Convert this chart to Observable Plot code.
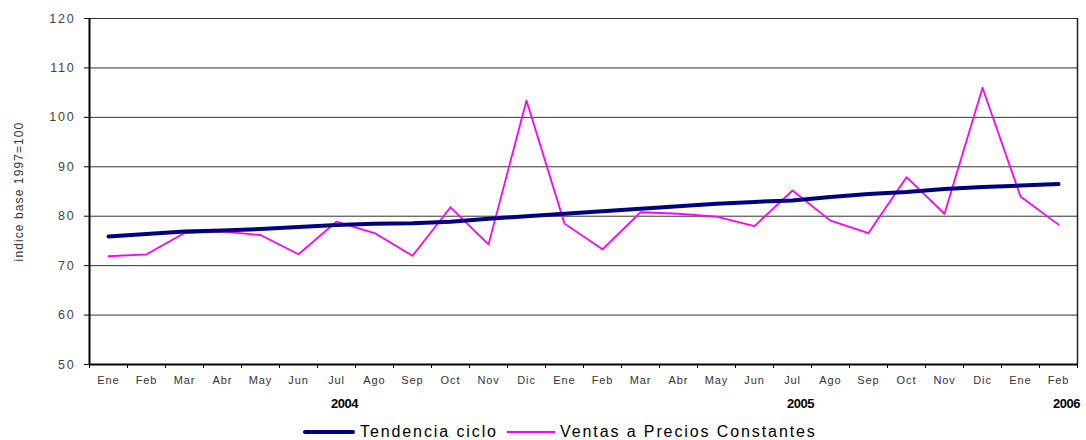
<!DOCTYPE html>
<html>
<head>
<meta charset="utf-8">
<script src="https://cdn.jsdelivr.net/npm/d3@7"></script>
<script src="https://cdn.jsdelivr.net/npm/@observablehq/plot@0.6"></script>
<style>
  html, body { margin: 0; padding: 0; background: #fff; overflow: hidden; }
  #chart svg { display: block; }
  .legend { position: relative; height: 24px; font-family: "Liberation Sans", Arial, sans-serif; font-size: 16px; letter-spacing: 1.9px; color: #000; }
  .legend .item { position: absolute; top: 0; height: 24px; display: flex; align-items: center; white-space: nowrap; }
  .legend .sw { display: inline-block; margin-right: 5px; }
</style>
</head>
<body>
<div id="chart"></div>
<div class="legend" id="legend"></div>
<script>
const meses = ["Ene","Feb","Mar","Abr","May","Jun","Jul","Ago","Sep","Oct","Nov","Dic",
               "Ene","Feb","Mar","Abr","May","Jun","Jul","Ago","Sep","Oct","Nov","Dic",
               "Ene","Feb"];
const tendencia = [75.9,76.4,76.9,77.1,77.4,77.8,78.2,78.5,78.6,78.9,79.5,80.0,
                   80.5,81.0,81.5,82.0,82.5,82.9,83.2,83.9,84.5,84.9,85.5,85.9,
                   86.2,86.5];
const ventas = [71.9,72.3,76.6,76.9,76.2,72.3,78.9,76.6,72.0,81.8,74.3,103.4,
                78.5,73.3,80.8,80.5,79.9,78.0,85.2,79.1,76.6,87.9,80.5,106.0,
                84.0,78.3];
const anos = ["2004","2005","2006"];
const anosMes = [6, 18, 25];
const yTicks = [50,60,70,80,90,100,110,120];
const yGrid = [60,70,80,90,100,110,120];
const yLabel = "indice base 1997=100";
const serieNombres = ["Tendencia ciclo","Ventas a Precios Constantes"];
const serieColores = ["#000080","#ff00ff"];

const n = meses.length;
const plot = Plot.plot({
  width: 1086,
  height: 420,
  marginLeft: 89,
  marginRight: 9,
  marginTop: 18,
  marginBottom: 56,
  style: { fontFamily: "Liberation Sans, Arial, sans-serif", background: "#fff" },
  x: { type: "linear", domain: [0, n], axis: null },
  y: { domain: [50, 120], axis: null },
  marks: [
    Plot.ruleY(yGrid, { stroke: "#333", strokeWidth: 1 }),
    Plot.ruleX([n], { stroke: "#222", strokeWidth: 1.5 }),
    Plot.axisY({ ticks: yTicks, tickSize: 5, tickPadding: 9, fontSize: 12.5, fill: "#444", stroke: "#000" }),
    Plot.axisX({ ticks: d3.range(n + 1), tickSize: 4, tickFormat: () => "", stroke: "#000" }),
    Plot.ruleX([0], { stroke: "#000", strokeWidth: 2 }),
    Plot.ruleY([50], { stroke: "#000", strokeWidth: 2 }),
    Plot.line(ventas, { x: (d, i) => i + 0.5, y: d => d, stroke: serieColores[1], strokeWidth: 1.8 }),
    Plot.line(tendencia, { x: (d, i) => i + 0.5, y: d => d, stroke: serieColores[0], strokeWidth: 4, strokeLinecap: "round" }),
    Plot.text(meses, { x: (d, i) => i + 0.5, text: d => d, frameAnchor: "bottom", dy: 19, fontSize: 11, fill: "#333" }),
    Plot.text(anos, { x: (d, i) => anosMes[i] + 0.5, text: d => d, frameAnchor: "bottom", dy: 43, dx: 8, fontSize: 13, fontWeight: "bold", fill: "#000" }),
    Plot.text([yLabel], { frameAnchor: "left", textAnchor: "middle", rotate: -90, dx: -67, lineAnchor: "bottom", fontSize: 12, fill: "#333" })
  ]
});
document.getElementById("chart").appendChild(plot);

// letter spacing tweaks
d3.select(plot).selectAll('g[aria-label="y-axis tick label"] text').style("letter-spacing", "1.8px");
const textGroups = d3.select(plot).selectAll('g[aria-label="text"]').nodes();
if (textGroups[0]) d3.select(textGroups[0]).selectAll("text").style("letter-spacing", "0.9px");
if (textGroups[1]) d3.select(textGroups[1]).selectAll("text").style("letter-spacing", "-0.5px");
if (textGroups[2]) d3.select(textGroups[2]).selectAll("text").style("letter-spacing", "1.1px");

// legend
const legend = document.getElementById("legend");
const items = [
  { left: 303, w: 52, h: 4 },
  { left: 507, w: 48, h: 2 }
];
serieNombres.forEach((name, i) => {
  const it = document.createElement("div");
  it.className = "item";
  it.style.left = items[i].left + "px";
  const sw = document.createElement("span");
  sw.className = "sw";
  sw.style.width = items[i].w + "px";
  sw.style.height = items[i].h + "px";
  sw.style.background = serieColores[i];
  if (i === 0) sw.style.borderRadius = "2px";
  it.appendChild(sw);
  const t = document.createElement("span");
  t.textContent = name;
  it.appendChild(t);
  legend.appendChild(it);
});
</script>
</body>
</html>
